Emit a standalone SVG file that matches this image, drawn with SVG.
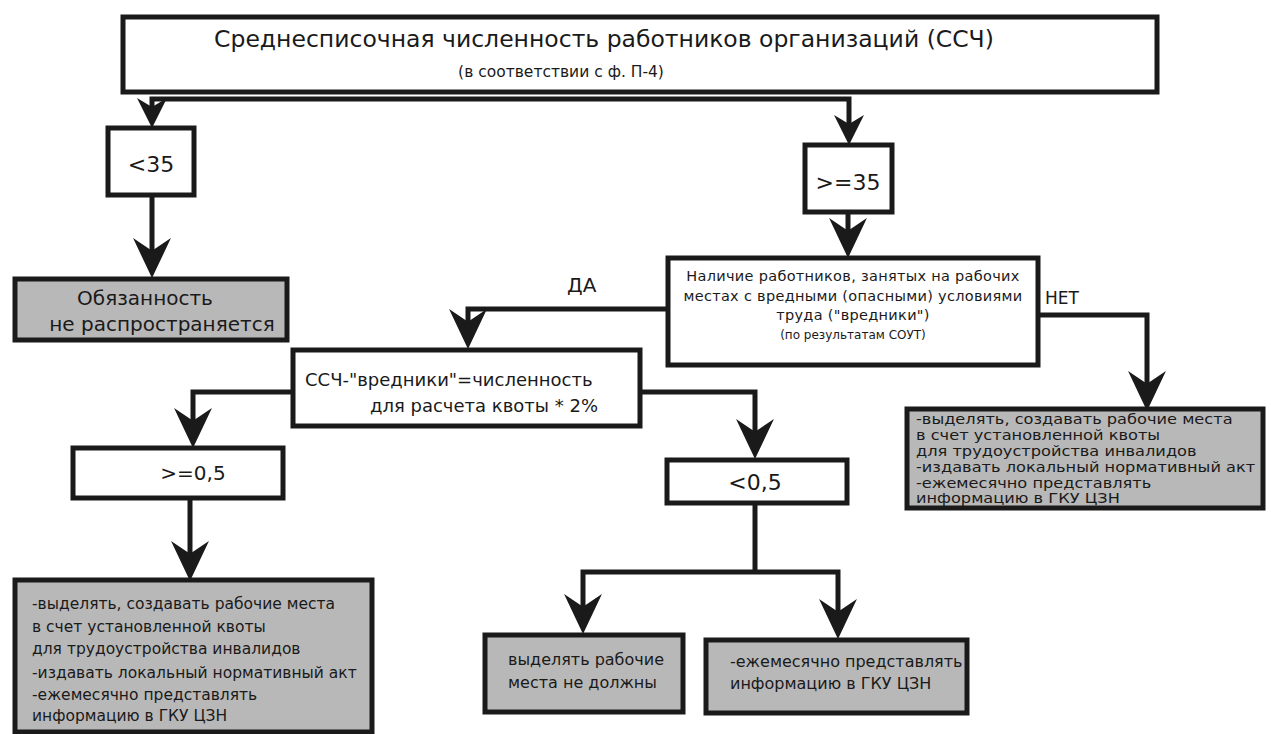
<svg xmlns="http://www.w3.org/2000/svg" width="1271" height="734" viewBox="0 0 1271 734">
<style>
  .box{fill:#fff;stroke:#1a1a1a;stroke-width:5}
  .gbox{fill:#b8b8b8;stroke:#1a1a1a;stroke-width:5}
  .t{font-family:"DejaVu Sans","Liberation Sans",sans-serif;fill:#1a1a1a}
  .c{stroke:#1a1a1a;stroke-width:5;fill:none;stroke-linejoin:miter}
  .a{marker-end:url(#arr)}
  .as{marker-end:url(#arrs)}
</style>
<defs>
  <marker id="arr" markerUnits="userSpaceOnUse" markerWidth="40" markerHeight="38" viewBox="0 0 38 36" refX="18" refY="18" orient="auto">
    <path d="M0,0 L38,18 L0,36 L12,18 Z" fill="#1a1a1a"/>
  </marker>
  <marker id="arrs" markerUnits="userSpaceOnUse" markerWidth="30" markerHeight="30" viewBox="0 0 30 30" refX="14" refY="15" orient="auto">
    <path d="M0,0 L30,15 L0,30 L9,15 Z" fill="#1a1a1a"/>
  </marker>
</defs>

<g id="connectors">
  <path class="c as" d="M500,99 H152 V112"/>
  <path class="c as" d="M500,99 H849 V129"/>
  <path class="c a" d="M152,195 V257"/>
  <path class="c a" d="M848,212 V237"/>
  <path class="c a" d="M668,309 H468 V328"/>
  <path class="c a" d="M1038,315 H1147 V390"/>
  <path class="c a" d="M293,392 H193 V427"/>
  <path class="c a" d="M640,392 H755 V438"/>
  <path class="c a" d="M190,498 V560"/>
  <path class="c" d="M755,503 V572"/>
  <path class="c a" d="M755,572 H583 V613"/>
  <path class="c a" d="M755,572 H838 V618"/>
</g>

<g id="n-top">
  <rect class="box" x="123" y="17" width="1034" height="75"/>
  <text class="t" x="604" y="47" font-size="23.5" text-anchor="middle">Среднесписочная численность работников организаций (ССЧ)</text>
  <text class="t" x="561" y="77" font-size="15.5" text-anchor="middle">(в соответствии с ф. П-4)</text>
</g>

<g id="n-lt35">
  <rect class="box" x="108" y="128" width="86" height="67"/>
  <text class="t" x="151" y="172" font-size="22" text-anchor="middle">&lt;35</text>
</g>

<g id="n-ge35">
  <rect class="box" x="805" y="145" width="87" height="67"/>
  <text class="t" x="848" y="190" font-size="22" text-anchor="middle">&gt;=35</text>
</g>

<g id="n-noobl">
  <rect class="gbox" x="15" y="279" width="272" height="61"/>
  <text class="t" x="145" y="305" font-size="20" text-anchor="middle">Обязанность</text>
  <text class="t" x="162" y="331" font-size="20" text-anchor="middle">не распространяется</text>
</g>

<g id="n-hazard">
  <rect class="box" x="668" y="258" width="370" height="107"/>
  <text class="t" x="853" y="281" font-size="14.5" text-anchor="middle" letter-spacing="0.3">Наличие работников, занятых на рабочих</text>
  <text class="t" x="853" y="301" font-size="14.5" text-anchor="middle" letter-spacing="0.3">местах с вредными (опасными) условиями</text>
  <text class="t" x="853" y="320" font-size="14.5" text-anchor="middle" letter-spacing="0.3">труда ("вредники")</text>
  <text class="t" x="853" y="339" font-size="12" text-anchor="middle">(по результатам СОУТ)</text>
</g>

<text class="t" x="567" y="292" font-size="20">ДА</text>
<text class="t" x="1045" y="304" font-size="17">НЕТ</text>

<g id="n-formula">
  <rect class="box" x="293" y="350" width="347" height="76"/>
  <text class="t" x="305" y="386" font-size="18">ССЧ-"вредники"=численность</text>
  <text class="t" x="370" y="412" font-size="18">для расчета квоты * 2%</text>
</g>

<g id="n-ge05">
  <rect class="box" x="73" y="448" width="210" height="50"/>
  <text class="t" x="193" y="480" font-size="20" text-anchor="middle">&gt;=0,5</text>
</g>

<g id="n-lt05">
  <rect class="box" x="667" y="460" width="180" height="43"/>
  <text class="t" x="755" y="490" font-size="22" text-anchor="middle">&lt;0,5</text>
</g>

<g id="n-right">
  <rect class="gbox" x="907" y="409" width="356" height="99"/>
  <g class="t" font-size="13.5" transform="translate(916,0) scale(1.2,1)">
    <text x="0" y="424">-выделять, создавать рабочие места</text>
    <text x="0" y="440">в счет установленной квоты</text>
    <text x="0" y="456">для трудоустройства инвалидов</text>
    <text x="0" y="472">-издавать локальный нормативный акт</text>
    <text x="0" y="488">-ежемесячно представлять</text>
    <text x="0" y="503">информацию в ГКУ ЦЗН</text>
  </g>
</g>

<g id="n-leftbottom">
  <rect class="gbox" x="15" y="580" width="357" height="152"/>
  <g class="t" font-size="15.5">
    <text x="32" y="609">-выделять, создавать рабочие места</text>
    <text x="32" y="632">в счет установленной квоты</text>
    <text x="32" y="654">для трудоустройства инвалидов</text>
    <text x="32" y="678">-издавать локальный нормативный акт</text>
    <text x="32" y="700">-ежемесячно представлять</text>
    <text x="32" y="721">информацию в ГКУ ЦЗН</text>
  </g>
</g>

<g id="n-nomesta">
  <rect class="gbox" x="485" y="635" width="198" height="77"/>
  <text class="t" x="508" y="665" font-size="16">выделять рабочие</text>
  <text class="t" x="508" y="688" font-size="16">места  не должны</text>
</g>

<g id="n-info">
  <rect class="gbox" x="706" y="640" width="261" height="73"/>
  <text class="t" x="730" y="667" font-size="16">-ежемесячно представлять</text>
  <text class="t" x="730" y="689" font-size="16">информацию в ГКУ ЦЗН</text>
</g>
</svg>
